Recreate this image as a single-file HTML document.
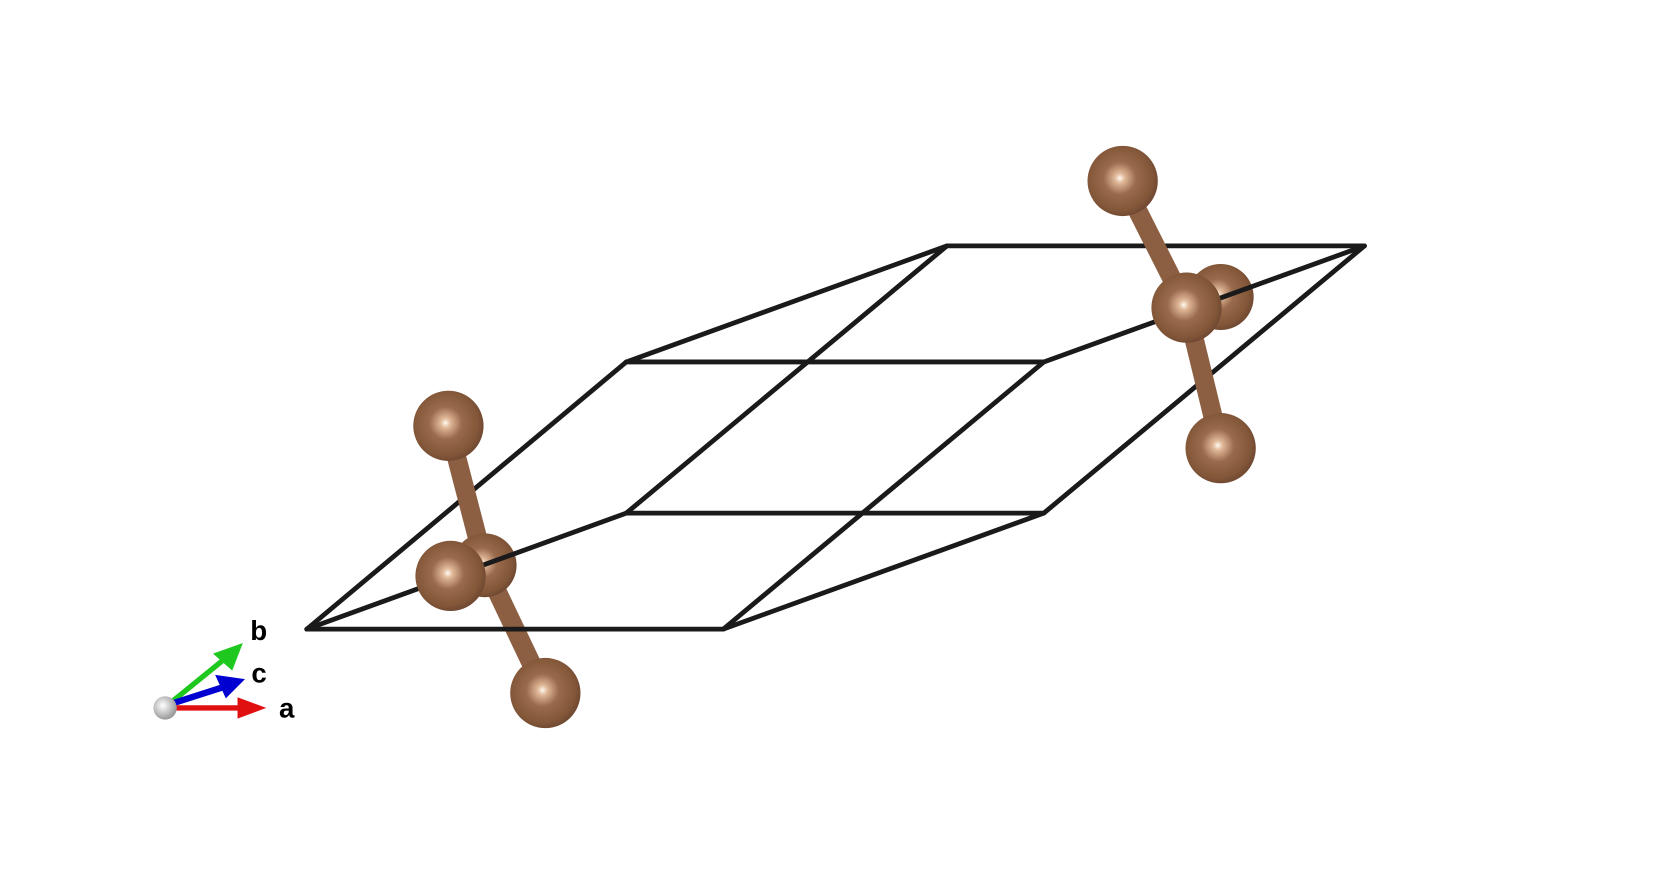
<!DOCTYPE html>
<html><head><meta charset="utf-8"><style>
html,body{margin:0;padding:0;background:#fff;width:1668px;height:874px;overflow:hidden}
svg{display:block}
text{font-family:"Liberation Sans",Arial,sans-serif;font-weight:bold;font-size:26px;fill:#000}
</style></head><body>
<svg width="1668" height="874" viewBox="0 0 1566 821" preserveAspectRatio="none">
<defs>
<radialGradient id="ball" cx="0.46" cy="0.46" r="0.58" fx="0.46" fy="0.46">
<stop offset="0" stop-color="#fffaf2"/><stop offset="0.12" stop-color="#e0b898"/><stop offset="0.4" stop-color="#9a6a4c"/><stop offset="0.8" stop-color="#825638"/><stop offset="1" stop-color="#6a4430"/>
</radialGradient>
<radialGradient id="wball" cx="0.4" cy="0.4" r="0.6"><stop offset="0" stop-color="#fff"/><stop offset="1" stop-color="#999"/></radialGradient>
</defs>
<g id="under" stroke="#1a1a1a" stroke-width="4.5" stroke-linecap="round"></g>
<g id="bonds" stroke="#8c5f43" stroke-width="18" stroke-linecap="round"></g>
<g id="back"></g>
<g id="over" stroke="#1a1a1a" stroke-width="4.5" stroke-linecap="round"></g>
<g id="front"></g>
<g>
<line x1="158" y1="662" x2="212" y2="618" stroke="#1ec81e" stroke-width="5"/>
<polygon points="228,604 218,630 200,614" fill="#1ec81e"/>
<line x1="158" y1="662" x2="208" y2="646" stroke="#0000d0" stroke-width="6"/>
<polygon points="230,638 212,656 202,634" fill="#0000d0"/>
<line x1="158" y1="665" x2="225" y2="665" stroke="#e01010" stroke-width="5"/>
<polygon points="250,665 223,655 223,675" fill="#e01010"/>
<circle cx="155" cy="665" r="11" fill="url(#wball)"/>
<text x="235" y="601">b</text>
<text x="236" y="641">c</text>
<text x="262" y="674">a</text>
</g>
</svg>
<script>
const underEdges=[[288,591,588,340],[588,482,889,231],[679,591,980,340],[980,482,1281,231],[588,340,889,231],[679,591,980,482],[588,482,980,482],[588,340,980,340],[889,231,1281,231]];
const overEdges=[[288,591,588,482],[980,340,1281,231],[288,591,679,591]];
const bondList=[[421,400,455,531],[455,531,512,651],[1054,170,1114,289],[1114,289,1146,421]];
const backAtoms=[[455,531,30],[1146,279,31]];
const frontAtoms=[[421,400,33],[423,541,33],[512,651,33],[1054,170,33],[1114,289,33],[1146,421,33]];
const NS='http://www.w3.org/2000/svg';
function lines(id,arr){const g=document.getElementById(id);arr.forEach(e=>{const l=document.createElementNS(NS,'line');
l.setAttribute('x1',e[0]);l.setAttribute('y1',e[1]);l.setAttribute('x2',e[2]);l.setAttribute('y2',e[3]);


g.appendChild(l);});}
function atoms(id,arr){const g=document.getElementById(id);arr.forEach(a=>{const c=document.createElementNS(NS,'circle');
c.setAttribute('cx',a[0]);c.setAttribute('cy',a[1]);c.setAttribute('r',a[2]);c.setAttribute('fill','url(#ball)');


g.appendChild(c);});}
lines('under',underEdges);lines('bonds',bondList);atoms('back',backAtoms);lines('over',overEdges);atoms('front',frontAtoms);
</script>
</body></html>
